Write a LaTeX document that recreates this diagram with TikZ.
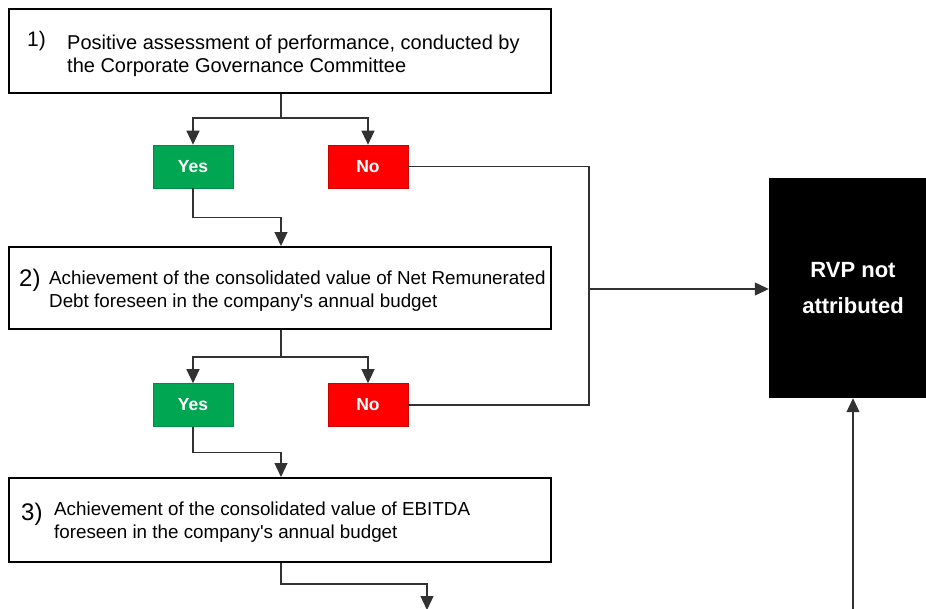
\documentclass[tikz,border=0pt]{standalone}
\usepackage{fontspec}
\setmainfont{Liberation Sans}[Ligatures=TeXOff]
\usetikzlibrary{arrows.meta,positioning}
\definecolor{yesgreen}{RGB}{0,166,81}
\definecolor{nored}{RGB}{255,0,0}
\definecolor{conn}{RGB}{50,50,50}
\begin{document}
\begin{tikzpicture}[x=1pt,y=-1pt,
  stepbox/.style={draw=black,line width=2pt,minimum width=542pt,inner sep=0pt},
  yesbox/.style={fill=yesgreen,draw=yesgreen!85!black,line width=0.6pt,minimum width=80pt,minimum height=43pt,text=white,font=\fontsize{17.5}{19}\selectfont\bfseries},
  nobox/.style={fill=nored,draw=nored!80!black,line width=0.6pt,minimum width=80pt,minimum height=43pt,text=white,font=\fontsize{17.5}{19}\selectfont\bfseries},
  maintext/.style={anchor=west,align=left,inner sep=0pt,font=\fontsize{18.8}{23.5}\selectfont},
  numtext/.style={anchor=west,inner sep=0pt,font=\fontsize{24}{26}\selectfont},
  link/.style={draw=conn,line width=1.2pt},
  arr/.style={link,-{Triangle[length=14pt,width=13pt]}}]
\useasboundingbox (0,0) rectangle (926,608);
% step boxes
\node[stepbox,minimum height=84pt] (box1) at (280,51) {};
\node[stepbox,minimum height=82pt] (box2) at (280,288) {};
\node[stepbox,minimum height=84pt] (box3) at (280,520) {};
% texts
\node[numtext,font=\fontsize{21}{23}\selectfont] (n1) at (27,41) {1)};
\node[maintext,font=\fontsize{20}{23}\selectfont] (t1) at (67,56) {Positive assessment of performance, conducted by\\the Corporate Governance Committee};
\node[numtext] (n2) at (19,280) {2)};
\node[maintext] (t2) at (49,291) {Achievement of the consolidated value of Net Remunerated\\Debt foreseen in the company's annual budget};
\node[numtext] (n3) at (21,514) {3)};
\node[maintext] (t3) at (54,522) {Achievement of the consolidated value of EBITDA\\foreseen in the company's annual budget};
% yes / no
\node[yesbox] (yes1) at (193,166.5) {Yes};
\node[nobox] (no1) at (368,166.5) {No};
\node[yesbox] (yes2) at (193,405) {Yes};
\node[nobox] (no2) at (368,405) {No};
% RVP
\node[fill=black,minimum width=168pt,minimum height=220pt,text=white,align=center,font=\fontsize{22}{36}\selectfont\bfseries] (rvp) at (853,288) {RVP not\\attributed};
% junctions
\coordinate (j1) at (281,118);
\coordinate (j2) at (281,357);
\coordinate (c) at (589,289);
\coordinate (end3) at (427,610);
\coordinate (endr) at (853,610);
% connectors
\draw[link] (box1.south -| j1) -- (j1);
\draw[arr] (j1) -| (yes1.north);
\draw[arr] (j1) -| (no1.north);
\draw[arr] (yes1.south) -- ++(0,29) -| (box2.north -| j1);
\draw[link] (box2.south -| j2) -- (j2);
\draw[arr] (j2) -| (yes2.north);
\draw[arr] (j2) -| (no2.north);
\draw[arr] (yes2.south) -- ++(0,26) -| (box3.north -| j1);
\draw[link] (no1.east) -| (c);
\draw[link] (no2.east) -| (c);
\draw[arr] (c) -- (rvp.west |- c);
\draw[arr] (box3.south -| j1) -- ++(0,21) -| (end3);
\draw[arr] (endr) -- (rvp.south);
\end{tikzpicture}
\end{document}
